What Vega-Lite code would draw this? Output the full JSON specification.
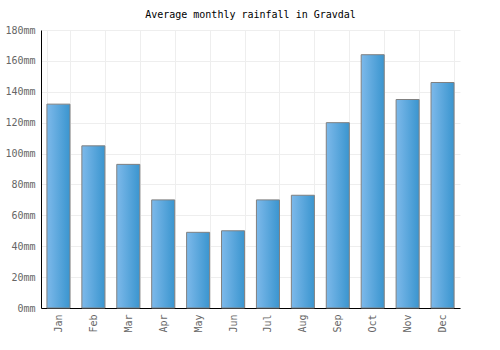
{
  "$schema": "https://vega.github.io/schema/vega-lite/v6.json",
  "autosize": "none",
  "width": 419,
  "height": 278,
  "padding": {"left": 41, "top": 30, "right": 40, "bottom": 42},
  "background": "white",
  "title": {"text": "Average monthly rainfall in Gravdal", "font": "DejaVu Sans Mono", "fontSize": 10, "fontWeight": "normal", "color": "#000000", "anchor": "middle", "offset": 5},
  "config": {"view": {"stroke": null}},
  "data": {"values": [
    {"month": "Jan", "rain": 132},
    {"month": "Feb", "rain": 105},
    {"month": "Mar", "rain": 93},
    {"month": "Apr", "rain": 70},
    {"month": "May", "rain": 49},
    {"month": "Jun", "rain": 50},
    {"month": "Jul", "rain": 70},
    {"month": "Aug", "rain": 73},
    {"month": "Sep", "rain": 120},
    {"month": "Oct", "rain": 164},
    {"month": "Nov", "rain": 135},
    {"month": "Dec", "rain": 146}
  ]},
  "mark": {
    "type": "bar",
    "stroke": "#808080",
    "strokeWidth": 1,
    "color": {"gradient": "linear", "x1": 0, "x2": 1, "y1": 0, "y2": 0, "stops": [{"offset": 0, "color": "#7db9ea"}, {"offset": 1, "color": "#3a95cf"}]}
  },
  "encoding": {
    "x": {
      "field": "month", "type": "nominal", "sort": null,
      "scale": {"paddingInner": 0.34, "paddingOuter": 0.17},
      "axis": {"title": null, "labelAngle": -90, "labelFont": "DejaVu Sans Mono", "labelFontSize": 10, "labelColor": "#666666", "labelPadding": 6, "ticks": false, "domainColor": "#000000", "domainWidth": 1, "grid": true, "gridColor": "#eeeeee", "tickBand": "extent"}
    },
    "y": {
      "field": "rain", "type": "quantitative",
      "scale": {"domain": [0, 180]},
      "axis": {"title": null, "values": [0, 20, 40, 60, 80, 100, 120, 140, 160, 180], "labelExpr": "datum.value + 'mm'", "labelFont": "DejaVu Sans Mono", "labelFontSize": 10, "labelColor": "#666666", "labelPadding": 6, "ticks": false, "domainColor": "#000000", "domainWidth": 1, "gridColor": "#eeeeee"}
    }
  }
}
